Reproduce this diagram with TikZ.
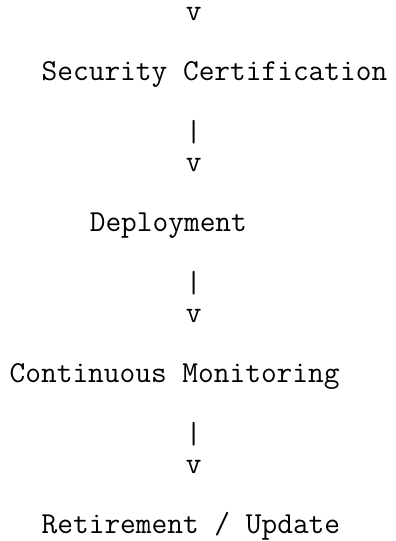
\documentclass[tikz,border=0pt]{standalone}
\usepackage{fontspec}
\usepackage{tikz}

\begin{document}
\begin{tikzpicture}[x=1pt, y=-1pt,
  ascii/.style={anchor=base west, inner sep=0pt, text=black, text height=0.5em,
    font=\ttfamily\fontsize{30.5}{30.2}\selectfont}]
\useasboundingbox (0,0) rectangle (396,541);
\node[ascii] (v0) at (185.7,20.5) {v};
\node[ascii] (cert) at (41.5,80.9) {Security Certification};
\node[ascii] (bar1) at (185.7,141.3) {|};
\node[ascii] (v1) at (185.7,171.5) {v};
\node[ascii] (deploy) at (89.6,231.9) {Deployment};
\node[ascii] (bar2) at (185.7,292.3) {|};
\node[ascii] (v2) at (185.7,322.5) {v};
\node[ascii] (monitor) at (9.5,382.9) {Continuous Monitoring};
\node[ascii] (bar3) at (185.7,443.3) {|};
\node[ascii] (v3) at (185.7,473.5) {v};
\node[ascii] (retire) at (41.5,533.9) {Retirement / Update};
\end{tikzpicture}
\end{document}
